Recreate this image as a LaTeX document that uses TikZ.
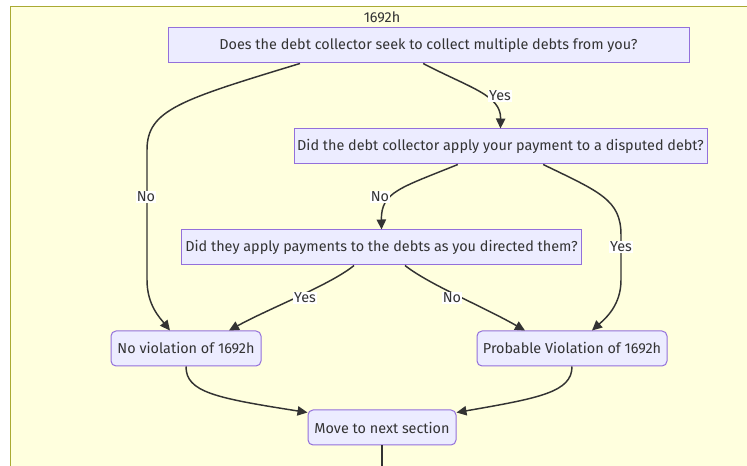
\documentclass[tikz,border=0pt]{standalone}
\usepackage{fontspec}
\setmainfont{Fira Sans}
\usetikzlibrary{arrows.meta}
\definecolor{clusterfill}{HTML}{FFFFDE}
\definecolor{clusterline}{HTML}{AAAA33}
\definecolor{boxfill}{HTML}{ECECFF}
\definecolor{boxline}{HTML}{9370DB}
\definecolor{inkgrey}{HTML}{333333}

\begin{document}
\begin{tikzpicture}[x=0.75pt,y=-0.75pt,
        font=\fontsize{10.8}{13}\selectfont,
        main node/.style={draw=boxline,fill=boxfill,line width=0.75pt,text=inkgrey,minimum height=26.25pt,inner sep=0pt},
        end node/.style={main node,rounded corners=3.75pt},
        flow/.style={draw=inkgrey,line width=1.1pt,-{Triangle[length=7.5pt,width=7pt]}},
        edge label/.style={fill=white,inner sep=1pt,text=inkgrey}]

        \useasboundingbox (0,0) rectangle (747,466);
        \draw[clusterline,fill=clusterfill] (10.5,6.5) rectangle (760,480);
        \node[text=inkgrey] (title) at (382,17) {1692h};

        \node[main node,minimum width=390.75pt] (1) at (428.5,45.5) {Does the debt collector seek to collect multiple debts from you?};
        \node[main node,minimum width=309.75pt] (2) at (500.5,146.5) {Did the debt collector apply your payment to a disputed debt?};
        \node[main node,minimum width=300pt] (3) at (381.5,247.5) {Did they apply payments to the debts as you directed them?};
        \node[end node,minimum width=112.5pt] (4) at (186,348.5) {No violation of 1692h};
        \node[end node,minimum width=142.5pt] (5) at (572,348.5) {Probable Violation of 1692h};
        \node[end node,minimum width=111pt] (6) at (382,427.5) {Move to next section};
        \coordinate (exit) at (382,475);

        \draw[flow] ([xshift=-96.4pt]1.south) .. controls (180,100) and (147,110) .. (147,150)
          -- (147,280) .. controls (147,305) and (160,318) .. ([xshift=-12pt]4.north);
        \draw[flow] ([xshift=-4pt]1.south) .. controls (470,88) and (501,95) .. (2.north);
        \draw[flow] ([xshift=-32pt]2.south) .. controls (400,188) and (381,192) .. (3.north);
        \draw[flow] ([xshift=32pt]2.south) .. controls (600,192) and (621,200) .. (621,235)
          -- (621,280) .. controls (621,305) and (606,318) .. ([xshift=15pt]5.north);
        \draw[flow] ([xshift=-20.6pt]3.south) .. controls (330,285) and (270,308) .. ([xshift=32.25pt]4.north);
        \draw[flow] ([xshift=17.6pt]3.south) .. controls (430,285) and (480,305) .. ([xshift=-35.25pt]5.north);
        \draw[flow] (4.south) .. controls (186,392) and (215,398) .. ([yshift=-2.25pt]6.north west);
        \draw[flow] (5.south) .. controls (572,392) and (540,398) .. ([yshift=-2.25pt]6.north east);
        \draw[draw=inkgrey,line width=1.1pt] (6.south) -- (exit);

        \node[edge label] (no1) at (146,197) {No};
        \node[edge label] (yes1) at (500,96) {Yes};
        \node[edge label] (no2) at (380,197) {No};
        \node[edge label] (yes2) at (621,247) {Yes};
        \node[edge label] (yes3) at (305,298) {Yes};
        \node[edge label] (no3) at (452,298) {No};
      \end{tikzpicture}
\end{document}
